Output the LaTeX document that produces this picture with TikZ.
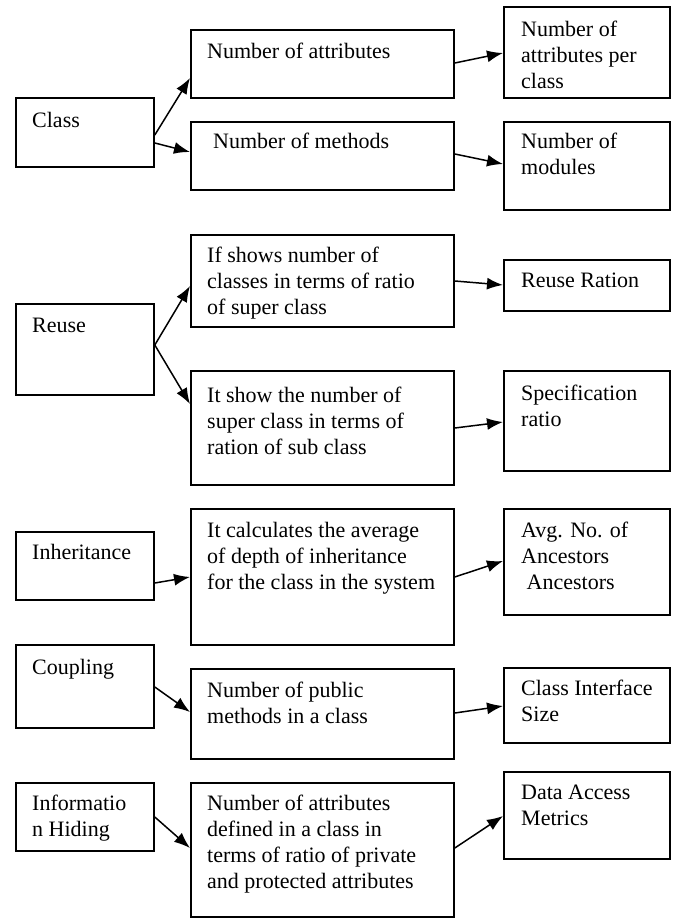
\documentclass[tikz,border=0pt]{standalone}
\usepackage{fontspec}
\setmainfont{Liberation Serif}
\usetikzlibrary{arrows.meta}
\newcommand\mlines[1]{\vtop{\baselineskip=26pt\lineskip=0pt\lineskiplimit=-100pt #1}}
\begin{document}
\begin{tikzpicture}[x=1pt,y=-1pt,
  box/.style={draw=black,line width=1.8pt,rectangle,inner sep=0pt,anchor=north west},
  txt/.style={inner sep=0pt,anchor=base west,font=\fontsize{22}{26}\selectfont},
  arr/.style={line width=1.5pt,-{Latex[length=16pt,width=12pt]}}]
\useasboundingbox (0,0) rectangle (674,918);
\fill[white] (0,0) rectangle (674,918);
% boxes: x1,y1, width, height
\node[box,minimum width=138pt,minimum height=69pt] (cls) at (15,97) {};
\node[box,minimum width=263pt,minimum height=68pt] (na) at (190,29) {};
\node[box,minimum width=263pt,minimum height=68pt] (nm) at (190,121) {};
\node[box,minimum width=166pt,minimum height=91pt] (apc) at (503,6) {};
\node[box,minimum width=166pt,minimum height=88pt] (nmod) at (503,121) {};
\node[box,minimum width=138pt,minimum height=91pt] (reuse) at (15,303) {};
\node[box,minimum width=263pt,minimum height=92pt] (ifs) at (190,234) {};
\node[box,minimum width=263pt,minimum height=114pt] (its) at (190,370) {};
\node[box,minimum width=166pt,minimum height=51pt] (rr) at (503,259) {};
\node[box,minimum width=166pt,minimum height=100pt] (spec) at (503,370) {};
\node[box,minimum width=138pt,minimum height=68pt] (inh) at (15,531) {};
\node[box,minimum width=263pt,minimum height=136pt] (calc) at (190,508) {};
\node[box,minimum width=166pt,minimum height=106pt] (avg) at (503,508) {};
\node[box,minimum width=138pt,minimum height=83pt] (coup) at (15,644) {};
\node[box,minimum width=263pt,minimum height=90pt] (pub) at (190,668) {};
\node[box,minimum width=166pt,minimum height=75pt] (cis) at (503,667) {};
\node[box,minimum width=138pt,minimum height=68pt] (info) at (15,782) {};
\node[box,minimum width=263pt,minimum height=134pt] (def) at (190,782) {};
\node[box,minimum width=166pt,minimum height=87pt] (dam) at (503,771) {};
% texts
\node[txt] (cls-t) at (32,127) {Class};
\node[txt] (na-t) at (207,58) {Number of attributes};
\node[txt] (nm-t) at (213,148) {Number of methods};
\node[txt] (apc-t) at (521,36) {\mlines{\hbox{Number of}\hbox{attributes per}\hbox{class}}};
\node[txt] (nmod-t) at (521,148) {\mlines{\hbox{Number of}\hbox{modules}}};
\node[txt] (reuse-t) at (32,332) {Reuse};
\node[txt] (ifs-t) at (207,262) {\mlines{\hbox{If shows number of}\hbox{classes in terms of ratio}\hbox{of super class}}};
\node[txt] (its-t) at (207,402) {\mlines{\hbox{It show the number of}\hbox{super class in terms of}\hbox{ration of sub class}}};
\node[txt] (rr-t) at (521,287) {Reuse Ration};
\node[txt] (spec-t) at (521,400) {\mlines{\hbox{Specification}\hbox{ratio}}};
\node[txt] (inh-t) at (32,559) {Inheritance};
\node[txt] (calc-t) at (207,537) {\mlines{\hbox{It calculates the average}\hbox{of depth of inheritance}\hbox{for the class in the system}}};
\node[txt] (avg-t) at (521,537) {\mlines{\hbox{Avg. No. of}\hbox{Ancestors}\hbox{\ Ancestors}}};
\node[txt] (coup-t) at (32,674) {Coupling};
\node[txt] (pub-t) at (207,697) {\mlines{\hbox{Number of public}\hbox{methods in a class}}};
\node[txt] (cis-t) at (521,695) {\mlines{\hbox{Class Interface}\hbox{Size}}};
\node[txt] (info-t) at (32,810) {\mlines{\hbox{Informatio}\hbox{n Hiding}}};
\node[txt] (def-t) at (207,810) {\mlines{\hbox{Number of attributes}\hbox{defined in a class in}\hbox{terms of ratio of private}\hbox{and protected attributes}}};
\node[txt] (dam-t) at (521,799) {\mlines{\hbox{Data Access}\hbox{Metrics}}};
% arrows
\draw[arr] ([yshift=-38pt]cls.north east) -- ([yshift=-49pt]na.north west);
\draw[arr] ([yshift=-46pt]cls.north east) -- ([yshift=-31pt]nm.north west);
\draw[arr] ([yshift=-34pt]na.north east) -- ([yshift=-47pt]apc.north west);
\draw[arr] ([yshift=-33pt]nm.north east) -- ([yshift=-43pt]nmod.north west);
\draw[arr] ([yshift=-42pt]reuse.north east) -- ([yshift=-52pt]ifs.north west);
\draw[arr] ([yshift=-42pt]reuse.north east) -- ([yshift=-34pt]its.north west);
\draw[arr] ([yshift=-47pt]ifs.north east) -- ([yshift=-26pt]rr.north west);
\draw[arr] ([yshift=-58pt]its.north east) -- ([yshift=-52pt]spec.north west);
\draw[arr] ([yshift=-52pt]inh.north east) -- ([yshift=-69pt]calc.north west);
\draw[arr] ([yshift=-69pt]calc.north east) -- ([yshift=-53pt]avg.north west);
\draw[arr] ([yshift=-43pt]coup.north east) -- ([yshift=-44pt]pub.north west);
\draw[arr] ([yshift=-45pt]pub.north east) -- ([yshift=-39pt]cis.north west);
\draw[arr] ([yshift=-35pt]info.north east) -- ([yshift=-66pt]def.north west);
\draw[arr] ([yshift=-66pt]def.north east) -- ([yshift=-45pt]dam.north west);
\end{tikzpicture}
\end{document}
